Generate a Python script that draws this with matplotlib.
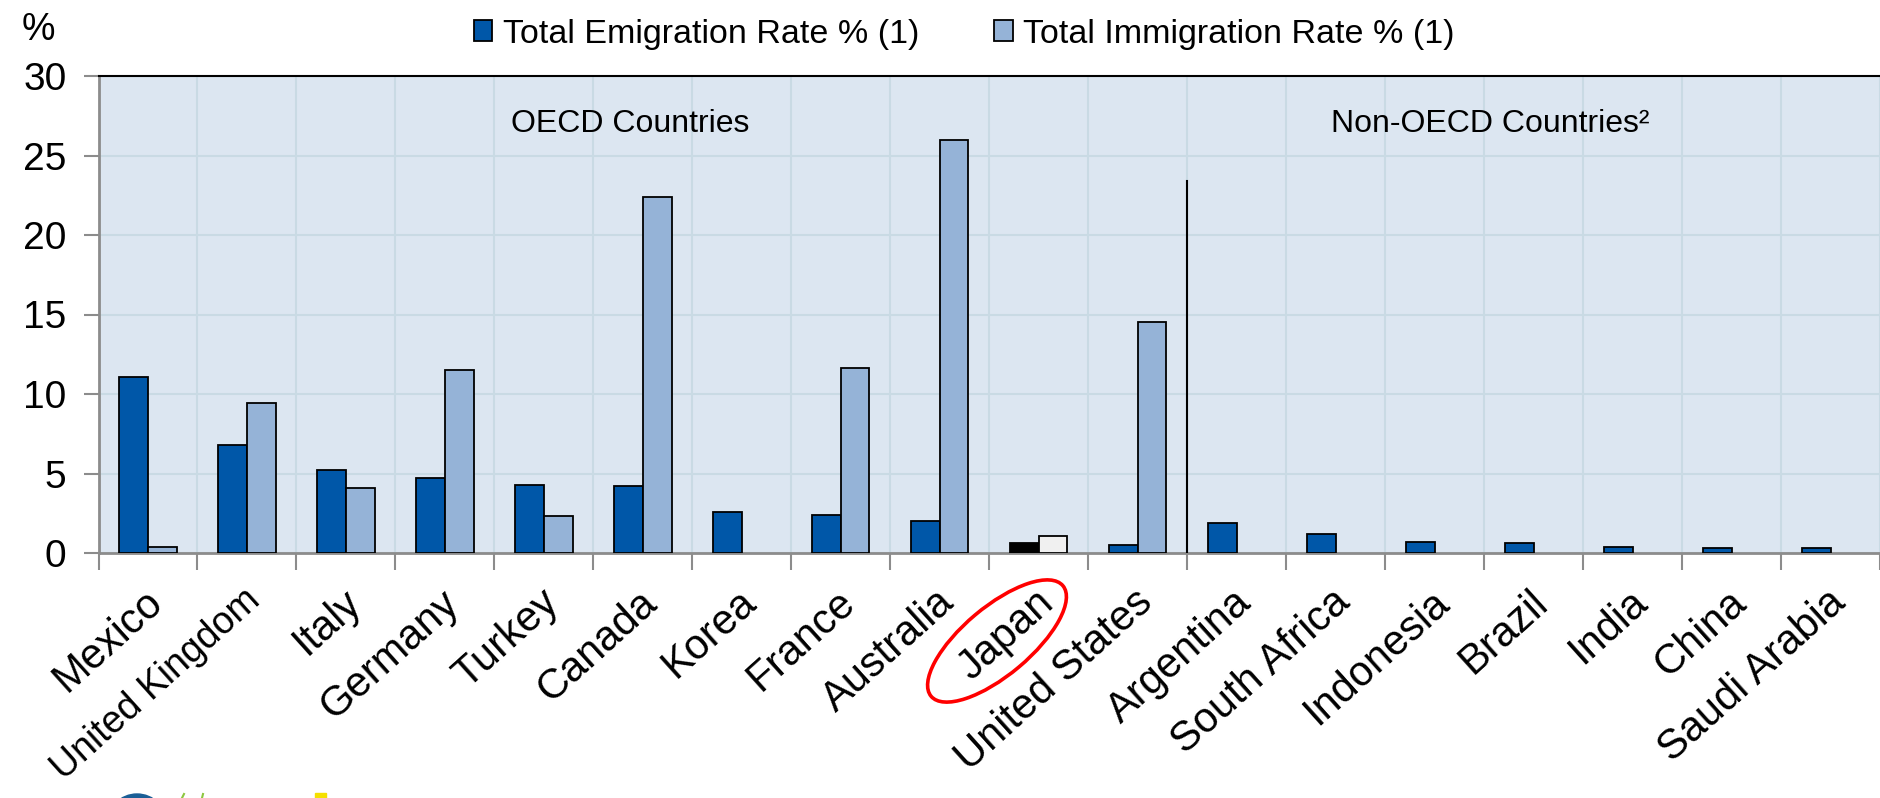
"""
Emigration vs. immigration rates for OECD and non-OECD countries,
grouped bar chart with Japan highlighted.
"""

import numpy as np
import matplotlib
matplotlib.use('Agg')
import matplotlib.pyplot as plt
from matplotlib.patches import Ellipse, Rectangle, Circle, Patch
from matplotlib.transforms import ScaledTranslation

plt.rcParams['font.family'] = ['Liberation Sans', 'DejaVu Sans']

COUNTRIES = ['Mexico', 'United Kingdom', 'Italy', 'Germany', 'Turkey', 'Canada',
             'Korea', 'France', 'Australia', 'Japan', 'United States',
             'Argentina', 'South Africa', 'Indonesia', 'Brazil', 'India',
             'China', 'Saudi Arabia']

# total emigration rate, %
EMIGRATION = [11.1, 6.8, 5.2, 4.7, 4.3, 4.2, 2.6, 2.4, 2.0, 0.6, 0.5,
              1.9, 1.2, 0.7, 0.6, 0.35, 0.3, 0.3]

# total immigration rate, % (OECD only; None = no data)
IMMIGRATION = [0.35, 9.45, 4.1, 11.5, 2.35, 22.4, None, 11.65, 26.0, 1.05, 14.5]

HIGHLIGHT = 'Japan'
N_OECD = len(IMMIGRATION)

EMI_COLOR = '#0057a8'
IMM_COLOR = '#95b3d7'
BG_COLOR = '#dce6f1'
GRID_COLOR = '#c9dae4'
SPINE_GRAY = '#8c8c8c'

W, H = 1880, 798
fig = plt.figure(figsize=(W / 100, H / 100), dpi=100)
ax = fig.add_axes([98.5 / W, 1 - 553 / H, 1 - 98.5 / W, (553 - 76) / H])
ax.set_facecolor(BG_COLOR)

x = np.arange(len(COUNTRIES))
bw = 0.29

emi_colors = ['black' if c == HIGHLIGHT else EMI_COLOR for c in COUNTRIES]
ax.bar(x - bw / 2, EMIGRATION, bw, color=emi_colors, edgecolor='black',
       linewidth=1.3, zorder=3)

imm_idx = [i for i, v in enumerate(IMMIGRATION) if v is not None]
imm_vals = [IMMIGRATION[i] for i in imm_idx]
imm_colors = ['#f0f0f0' if COUNTRIES[i] == HIGHLIGHT else IMM_COLOR for i in imm_idx]
ax.bar(np.array(imm_idx) + bw / 2, imm_vals, bw, color=imm_colors,
       edgecolor='black', linewidth=1.3, zorder=3)

# OECD / non-OECD divider
ax.plot([N_OECD - 0.5, N_OECD - 0.5], [0, 23.4], color='black', lw=1.5, zorder=4)

ax.text(4.87, 27.0, 'OECD Countries', ha='center', va='center', fontsize=23)
ax.text(13.56, 27.0, 'Non-OECD Countries\u00b2', ha='center', va='center', fontsize=23)

ax.set_xlim(-0.5, len(COUNTRIES) - 0.5)
ax.set_ylim(0, 30)
ax.set_yticks(np.arange(0, 31, 5))
ax.tick_params(axis='y', labelsize=28, length=11, width=1.5, color=SPINE_GRAY, pad=12)

ax.set_xticks(x)
ax.set_xticks(np.arange(-0.5, len(COUNTRIES), 1), minor=True)
ax.tick_params(axis='x', which='major', length=0, pad=21)
ax.tick_params(axis='x', which='minor', length=12, width=1.5, color=SPINE_GRAY)
ax.set_xticklabels(COUNTRIES, rotation=42, ha='right', va='top',
                   rotation_mode='anchor', fontsize=30)
shift = ScaledTranslation(-3 / 72, 0, fig.dpi_scale_trans)
for lab in ax.get_xticklabels():
    lab.set_transform(lab.get_transform() + shift)
    # the long second label has to fit in the bottom-left corner
    if lab.get_text() == 'United Kingdom':
        lab.set_fontsize(27)

ax.grid(axis='y', which='major', color=GRID_COLOR, lw=1.5, zorder=0)
ax.grid(axis='x', which='minor', color=GRID_COLOR, lw=1.5, zorder=0)
ax.set_axisbelow(True)

ax.spines['top'].set_color('black')
ax.spines['top'].set_linewidth(1.5)
ax.spines['right'].set_visible(False)
for side in ('left', 'bottom'):
    ax.spines[side].set_color(SPINE_GRAY)
    ax.spines[side].set_linewidth(2)

fig.text(22 / W, 1 - 30 / H, '%', fontsize=27, va='center', ha='left')

handles = [Patch(facecolor=EMI_COLOR, edgecolor='black', lw=1.3),
           Patch(facecolor=IMM_COLOR, edgecolor='black', lw=1.3)]
fig.legend(handles, ['Total Emigration Rate % (1)', 'Total Immigration Rate % (1)'],
           loc='center', bbox_to_anchor=(964 / W, 1 - 34 / H), ncol=2,
           frameon=False, fontsize=24.5, handlelength=0.55, handleheight=0.55,
           handletextpad=0.3, columnspacing=2.2)

# overlay in pixel units: highlight ring and logo fragments at the bottom edge
ov = fig.add_axes([0, 0, 1, 1], zorder=5)
ov.set_xlim(0, W)
ov.set_ylim(0, H)
ov.axis('off')
ov.patch.set_alpha(0)
ov.add_patch(Ellipse((997, H - 641), 172, 68, angle=40, fill=False,
                     edgecolor='#ff0000', lw=2.6))
ov.add_patch(Circle((137, -26), 30, color='#1a5e96', clip_on=True))
ov.add_patch(Rectangle((315, 0), 11, 5, color='#f5e000'))
ov.plot([182, 184], [0, 4], color='#8dc63f', lw=1.5)
ov.plot([202, 203], [0, 4], color='#8dc63f', lw=1.5)

fig.savefig('out.png', dpi=100)
